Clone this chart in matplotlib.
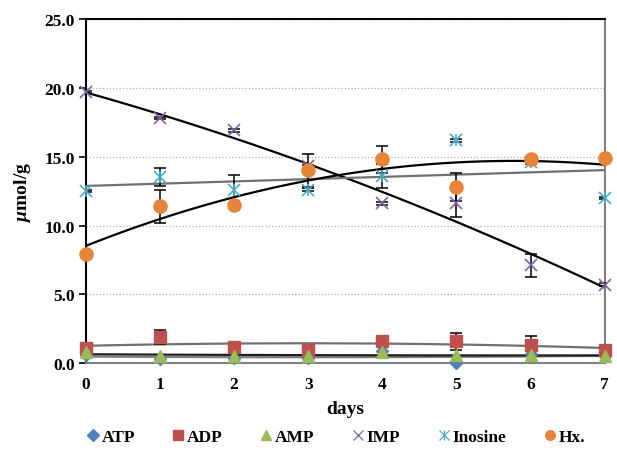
import numpy as np
import matplotlib
matplotlib.use("Agg")
import matplotlib.pyplot as plt
from matplotlib.legend_handler import HandlerTuple
from matplotlib.lines import Line2D

plt.rcParams['font.family'] = ['Liberation Serif', 'DejaVu Serif']
plt.rcParams['font.weight'] = 'bold'
plt.rcParams['mathtext.fontset'] = 'custom'
plt.rcParams['mathtext.it'] = 'Liberation Serif:italic:bold'
plt.rcParams['mathtext.rm'] = 'Liberation Serif:bold'

days = [0, 1, 2, 3, 4, 5, 6, 7]

atp = [0.6, 0.3, 0.4, 0.4, 0.9, 0.0, 0.7, 0.5]
adp = [1.1, 1.9, 1.2, 1.0, 1.6, 1.6, 1.3, 1.0]
amp = [0.8, 0.5, 0.5, 0.5, 0.8, 0.6, 0.6, 0.5]
imp = [19.7, 17.8, 16.9, 14.3, 11.6, 11.6, 7.1, 5.7]
inosine = [12.5, 13.5, 12.6, 12.6, 13.6, 16.2, 14.6, 12.0]
hx = [7.9, 11.4, 11.5, 14.0, 14.8, 12.8, 14.8, 14.9]

# standard deviations (small where no bar is visible)
adp_err = [0.1, 0.5, 0.3, 0.1, 0.2, 0.6, 0.7, 0.1]
imp_err = [0.1, 0.1, 0.1, 0.1, 0.1, 1.0, 0.85, 0.1]
ino_err = [0.1, 0.65, 1.1, 0.1, 0.9, 0.1, 0.1, 0.1]
hx_err = [0.1, 1.2, 0.1, 1.2, 0.95, 1.0, 0.1, 0.1]

fig = plt.figure(figsize=(6.17, 4.52), dpi=100)
ax = fig.add_axes([0.139, 0.194, 0.841, 0.762])

x = np.array(days)
xs = np.linspace(0, 7, 100)

# trend lines (polynomial fits)
trends = [(atp, 2, '#808080'), (adp, 2, '#707070'), (amp, 2, '#202020'),
          (imp, 2, 'black'), (inosine, 1, '#707070'), (hx, 2, 'black')]
for vals, deg, col in trends:
    coef = np.polyfit(x, vals, deg)
    ax.plot(xs, np.polyval(coef, xs), color=col, lw=1.6, zorder=2)

eb = dict(fmt='none', ecolor='black', elinewidth=1.1, capsize=4, capthick=1.1, zorder=3)
ax.errorbar(x, adp, yerr=adp_err, **eb)
ax.errorbar(x, imp, yerr=imp_err, **eb)
ax.errorbar(x, inosine, yerr=ino_err, **eb)
ax.errorbar(x, hx, yerr=hx_err, **eb)

ax.plot(x, atp, 'D', color='#4F81BD', ms=6.5, ls='none', zorder=4, clip_on=False)
ax.plot(x, adp, 's', color='#C0504D', ms=8, ls='none', zorder=4, clip_on=False)
ax.plot(x, amp, '^', color='#9BBB59', ms=8.5, ls='none', zorder=5, clip_on=False)
ax.plot(x, imp, 'x', color='#8064A2', ms=9, mew=1.2, ls='none', zorder=4, clip_on=False)
ax.plot(x, inosine, 'x', color='#4BACC6', ms=9, mew=1.2, ls='none', zorder=4, clip_on=False)
ax.plot(x, inosine, '|', color='#4BACC6', ms=9, mew=1.2, ls='none', zorder=4, clip_on=False)
ax.plot(x, hx, 'o', color='#E6853A', ms=9.5, ls='none', zorder=4, clip_on=False)

ax.set_xlim(0, 7)
ax.set_ylim(0, 25)
ax.set_xticks(days)
ax.set_yticks([0, 5, 10, 15, 20, 25])
ax.set_yticklabels(['%.1f' % v for v in [0, 5, 10, 15, 20, 25]])
ax.tick_params(axis='both', labelsize=12.5)
ax.tick_params(axis='x', length=0, pad=9)
ax.tick_params(axis='y', length=5, width=1.2, direction='out', pad=3)
for lab in ax.get_xticklabels() + ax.get_yticklabels():
    lab.set_fontweight('bold')

ax.yaxis.grid(True, color='#b0b0b0', ls=':', lw=0.9)
ax.set_axisbelow(True)
ax.spines['left'].set_linewidth(1.5)
ax.spines['top'].set_linewidth(1.5)
ax.spines['right'].set_color('#808080')
ax.spines['right'].set_linewidth(1.5)
ax.spines['bottom'].set_color('#808080')
ax.spines['bottom'].set_linewidth(1.5)

ax.set_xlabel('days', fontsize=14, fontweight='bold', labelpad=6)
ax.set_ylabel(r'$\mu$mol/g', fontsize=14, fontweight='bold', labelpad=8)

h_atp = Line2D([], [], marker='D', color='#4F81BD', ls='none', ms=6)
h_adp = Line2D([], [], marker='s', color='#C0504D', ls='none', ms=7)
h_amp = Line2D([], [], marker='^', color='#9BBB59', ls='none', ms=7)
h_imp = Line2D([], [], marker='x', color='#8064A2', ls='none', ms=7, mew=0.9)
h_ino1 = Line2D([], [], marker='x', color='#4BACC6', ls='none', ms=7, mew=0.9)
h_ino2 = Line2D([], [], marker='|', color='#4BACC6', ls='none', ms=7, mew=0.9)
h_hx = Line2D([], [], marker='o', color='#E6853A', ls='none', ms=7)
fig.legend([h_atp, h_adp, h_amp, h_imp, (h_ino1, h_ino2), h_hx],
           ['ATP', 'ADP', 'AMP', 'IMP', 'Inosine', 'Hx.'],
           handler_map={tuple: HandlerTuple(ndivide=1, pad=0)},
           loc='center', bbox_to_anchor=(0.545, 0.032), ncol=6, frameon=False,
           prop={'size': 12.5, 'weight': 'bold'}, handlelength=0.6,
           handletextpad=0.2, columnspacing=2.2)

fig.savefig('out.png', dpi=100)
